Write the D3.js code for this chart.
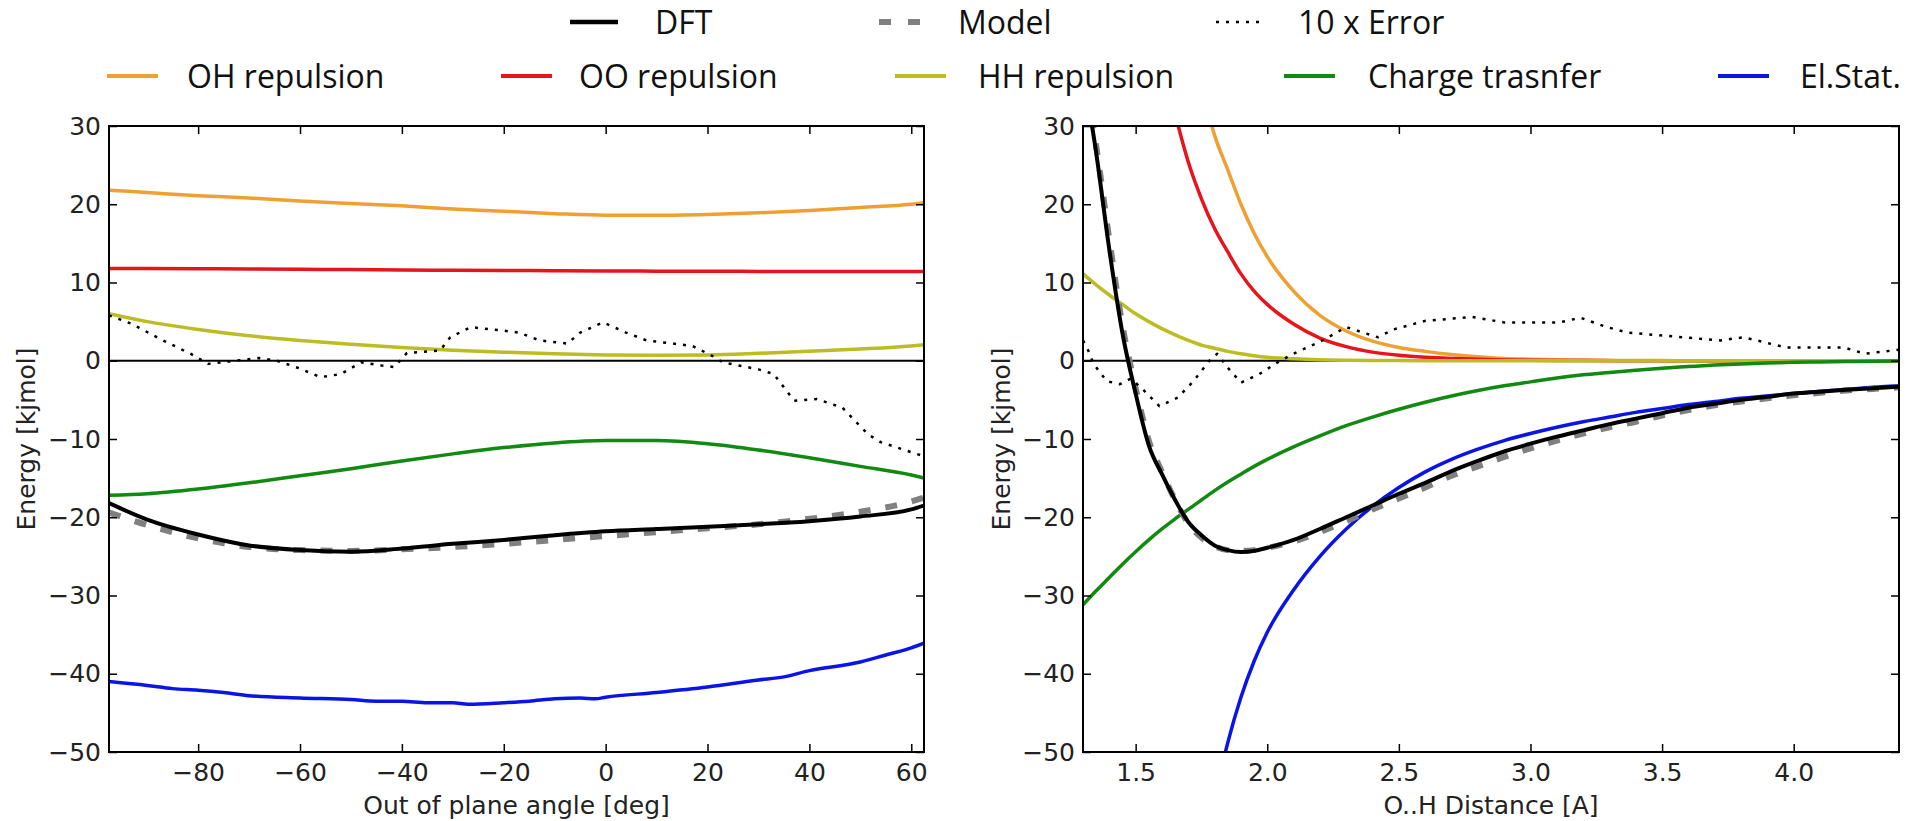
<!DOCTYPE html>
<html>
<head>
<meta charset="utf-8">
<script src="https://cdnjs.cloudflare.com/ajax/libs/d3/7.8.5/d3.min.js"></script>
<style>
	body { margin: 0; background: #fff; }
	svg { display: block; }
</style>
</head>
<body>
<div id="chart"></div>
<script>
// ---- data: left panel, out of plane angle [deg] ----
var angleX = [-97.5, -90, -80, -70, -60, -50, -40, -30, -20, -10, 0, 10, 20, 30, 40, 50, 60, 62.5];
var angleDFT = [-18.2, -20.3, -22.2, -23.6, -24.2, -24.4, -24.0, -23.4, -22.9, -22.3, -21.8, -21.5, -21.2, -20.9, -20.5, -19.9, -19.0, -18.5];
var angleModel = [-19.4, -21.0, -22.7, -23.8, -24.2, -24.3, -24.1, -23.8, -23.4, -22.9, -22.4, -21.9, -21.4, -20.9, -20.2, -19.3, -18.0, -17.5];
var angleOH = [21.8, 21.5, 21.1, 20.8, 20.4, 20.1, 19.8, 19.4, 19.1, 18.8, 18.6, 18.6, 18.7, 18.9, 19.2, 19.6, 20.0, 20.2];
var angleOO = [11.8, 11.78, 11.75, 11.72, 11.68, 11.65, 11.6, 11.57, 11.54, 11.5, 11.47, 11.45, 11.43, 11.42, 11.41, 11.4, 11.4, 11.4];
var angleHH = [6.0, 5.0, 4.0, 3.2, 2.6, 2.1, 1.7, 1.35, 1.1, 0.9, 0.75, 0.7, 0.75, 0.95, 1.2, 1.5, 1.9, 2.05];
var angleCT = [-17.2, -17.0, -16.4, -15.6, -14.7, -13.8, -12.8, -11.9, -11.1, -10.5, -10.2, -10.2, -10.6, -11.4, -12.4, -13.5, -14.6, -15.0];
var angleESX = [-97.5, -90, -85, -80, -75, -70, -60, -50, -45, -40, -35, -30, -27, -20, -15, -10, -5, -2, 0, 10, 20, 30, 35, 40, 50, 55, 60, 62.5];
var angleES = [-41.0, -41.5, -41.9, -42.1, -42.4, -42.8, -43.1, -43.3, -43.5, -43.5, -43.7, -43.7, -43.9, -43.7, -43.5, -43.2, -43.1, -43.2, -43.0, -42.4, -41.7, -40.8, -40.4, -39.6, -38.5, -37.6, -36.7, -36.1];
var angleErrX = [-97.5, -93, -87.5, -81.5, -78, -74, -68, -64.5, -60, -56, -52, -48, -44, -41.5, -39, -32.5, -30.5, -26.5, -19.5, -17, -13, -7.5, -5, -0.5, 4, 8, 17, 21, 23, 30, 33, 37, 41.5, 46.5, 51.5, 54, 61, 62.5];
var angleErr = [5.8, 4.7, 2.8, 0.9, -0.4, -0.1, 0.35, 0, -1.0, -2.1, -1.7, -0.2, -0.6, -0.8, 1.0, 1.3, 3.0, 4.3, 3.8, 3.6, 2.6, 2.2, 3.6, 4.9, 3.6, 2.6, 1.9, 0.6, -0.2, -1.1, -1.7, -5.1, -4.9, -6.0, -9.4, -10.4, -11.9, -12.2];

// ---- data: right panel, O..H distance [A] ----
var distX = [1.3, 1.35, 1.4, 1.45, 1.5, 1.55, 1.6, 1.65, 1.7, 1.75, 1.8, 1.85, 1.9, 1.95, 2.0, 2.1, 2.2, 2.3, 2.4, 2.5, 2.6, 2.7, 2.8, 2.9, 3.0, 3.1, 3.2, 3.3, 3.4, 3.5, 3.6, 3.7, 3.8, 3.9, 4.0, 4.1, 4.2, 4.3, 4.4];
var distDFT = [37, 26.6, 14.2, 3.5, -4.2, -10.8, -14.5, -17.8, -20.6, -22.3, -23.6, -24.2, -24.45, -24.3, -23.9, -22.9, -21.5, -20.0, -18.5, -17.0, -15.6, -14.1, -12.8, -11.6, -10.6, -9.7, -8.9, -8.1, -7.4, -6.7, -6.0, -5.5, -5.0, -4.6, -4.2, -3.95, -3.7, -3.5, -3.3];
var distModel = [38, 27.5, 15.5, 4.5, -3.5, -10.2, -14.2, -17.8, -20.8, -22.6, -23.7, -24.2, -24.3, -24.2, -23.9, -23.1, -21.9, -20.5, -19.0, -17.6, -16.2, -14.7, -13.5, -12.3, -11.2, -10.2, -9.3, -8.5, -7.8, -7.0, -6.3, -5.7, -5.2, -4.8, -4.4, -4.1, -3.8, -3.6, -3.4];
var distOH = [null, null, null, null, null, null, null, null, null, 35, 28.8, 24.4, 20.0, 16.3, 13.3, 8.9, 5.8, 3.8, 2.5, 1.7, 1.2, 0.8, 0.5, 0.3, 0.2, 0.12, 0.08, 0.05, 0.03, 0.02, 0.01, 0.01, 0, 0, 0, 0, 0, 0, 0];
var distOO = [null, null, null, null, null, null, null, 31.5, 25.4, 20.7, 16.9, 13.9, 11.1, 8.9, 7.2, 4.7, 2.9, 1.8, 1.1, 0.7, 0.45, 0.3, 0.2, 0.1, 0.06, 0.03, 0.02, 0.01, 0, 0, 0, 0, 0, 0, 0, 0, 0, 0, 0];
var distHH = [11.1, 9.7, 8.4, 7.2, 6.0, 5.0, 4.1, 3.3, 2.6, 2.0, 1.6, 1.2, 0.9, 0.65, 0.45, 0.25, 0.12, 0.06, 0.03, 0.02, 0, 0, 0, 0, 0, 0, 0, 0, 0, 0, 0, 0, 0, 0, 0, 0, 0, 0, 0];
var distCT = [-31.2, -29.4, -27.7, -26.0, -24.4, -22.9, -21.5, -20.2, -19.0, -17.8, -16.6, -15.5, -14.5, -13.5, -12.6, -11.0, -9.6, -8.3, -7.2, -6.2, -5.3, -4.5, -3.8, -3.2, -2.7, -2.2, -1.8, -1.5, -1.2, -0.95, -0.75, -0.55, -0.4, -0.3, -0.2, -0.15, -0.1, -0.05, -0.02];
var distES = [null, null, null, null, null, null, null, null, null, null, -56.0, -48.8, -43.0, -38.4, -34.7, -29.3, -25.0, -21.5, -18.6, -16.2, -14.2, -12.6, -11.3, -10.2, -9.3, -8.5, -7.8, -7.2, -6.6, -6.1, -5.6, -5.2, -4.8, -4.5, -4.2, -3.9, -3.65, -3.4, -3.2];
var distErrX = [1.3, 1.32, 1.34, 1.39, 1.44, 1.48, 1.52, 1.59, 1.66, 1.72, 1.78, 1.81, 1.85, 1.9, 1.97, 2.04, 2.1, 2.21, 2.3, 2.42, 2.48, 2.6, 2.78, 2.9, 3.11, 3.19, 3.29, 3.37, 3.72, 3.81, 3.97, 4.19, 4.27, 4.4];
var distErr = [2.6, 1.3, -0.4, -2.6, -3.0, -2.3, -3.4, -5.8, -4.7, -2.6, 0, 0.9, -0.9, -2.8, -1.7, -0.2, 0.9, 2.6, 4.3, 3.0, 4.0, 5.1, 5.6, 4.9, 4.9, 5.5, 4.3, 3.6, 2.6, 3.0, 1.7, 1.7, 0.9, 1.4];

// ---- axes and legend text ----
var energyTicks = [-50, -40, -30, -20, -10, 0, 10, 20, 30];
var angleTicks = [-80, -60, -40, -20, 0, 20, 40, 60];
var distTicks = [1.5, 2.0, 2.5, 3.0, 3.5, 4.0];
var legendTop = ['DFT', 'Model', '10 x Error'];
var legendBottom = ['OH repulsion', 'OO repulsion', 'HH repulsion', 'Charge trasnfer', 'El.Stat.'];

var colors = {
	dft: '#000000'
, model: '#808080'
, error: '#000000'
, oh: '#f0a030'
, oo: '#e8141c'
, hh: '#bcbd22'
, ct: '#108a10'
, es: '#0a14e6'
}

var W = 1922, H = 821;
var plotTop = 126, plotBottom = 752;
var tickFont = '"DejaVu Sans", sans-serif';

var svg = d3.select('#chart').append('svg')
	.attr('width', W)
	.attr('height', H);

function styleAxis(g) {
	g.select('.domain').remove();
	g.selectAll('.tick line').attr('stroke', '#000').attr('stroke-width', 1.5);
	g.selectAll('.tick text')
		.attr('font-family', tickFont)
		.attr('font-size', 25)
		.attr('fill', '#222');
}

function drawPanel(p) {
	var x = d3.scaleLinear().domain(p.xDomain).range([p.left, p.right]);
	var y = d3.scaleLinear().domain([-50, 30]).range([plotBottom, plotTop]);
	var g = svg.append('g');

	g.append('clipPath')
		.attr('id', p.id)
		.append('rect')
		.attr('x', p.left).attr('y', plotTop)
		.attr('width', p.right - p.left).attr('height', plotBottom - plotTop);

	// zero line
	g.append('line')
		.attr('x1', p.left).attr('x2', p.right)
		.attr('y1', y(0)).attr('y2', y(0))
		.attr('stroke', '#000').attr('stroke-width', 2);

	var line = d3.line()
		.defined(function(d) { return d[1] != null; })
		.x(function(d) { return x(d[0]); })
		.y(function(d) { return y(d[1]); });

	var lines = g.append('g').attr('clip-path', 'url(#' + p.id + ')');
	p.series.forEach(function(s) {
		line.curve(s.smooth ? d3.curveMonotoneX : d3.curveLinear);
		lines.append('path')
			.attr('d', line(d3.zip(s.xs, s.ys)))
			.attr('fill', 'none')
			.attr('stroke', s.color)
			.attr('stroke-width', s.width)
			.attr('stroke-dasharray', s.dash || null)
			.attr('stroke-linejoin', 'round');
	});

	// ticks on all four sides, pointing inward
	g.append('g')
		.attr('transform', 'translate(0,' + plotBottom + ')')
		.call(d3.axisBottom(x).tickValues(p.xTicks).tickFormat(p.fmt).tickSizeInner(-8).tickSizeOuter(0).tickPadding(11))
		.call(styleAxis);
	g.append('g')
		.attr('transform', 'translate(0,' + plotTop + ')')
		.call(d3.axisTop(x).tickValues(p.xTicks).tickFormat('').tickSizeInner(-8).tickSizeOuter(0))
		.call(styleAxis);
	g.append('g')
		.attr('transform', 'translate(' + p.left + ',0)')
		.call(d3.axisLeft(y).tickValues(energyTicks).tickFormat(d3.format('d')).tickSizeInner(-8).tickSizeOuter(0).tickPadding(8))
		.call(styleAxis);
	g.append('g')
		.attr('transform', 'translate(' + p.right + ',0)')
		.call(d3.axisRight(y).tickValues(energyTicks).tickFormat('').tickSizeInner(-8).tickSizeOuter(0))
		.call(styleAxis);

	g.append('rect')
		.attr('x', p.left).attr('y', plotTop)
		.attr('width', p.right - p.left).attr('height', plotBottom - plotTop)
		.attr('fill', 'none')
		.attr('stroke', '#000')
		.attr('stroke-width', 2);

	g.append('text')
		.attr('x', (p.left + p.right) / 2)
		.attr('y', 814)
		.attr('text-anchor', 'middle')
		.attr('font-family', tickFont)
		.attr('font-size', 25)
		.attr('fill', '#222')
		.text(p.xLabel);

	g.append('text')
		.attr('transform', 'translate(' + p.yLabelX + ',' + ((plotTop + plotBottom) / 2) + ') rotate(-90)')
		.attr('text-anchor', 'middle')
		.attr('font-family', tickFont)
		.attr('font-size', 25)
		.attr('fill', '#222')
		.text('Energy [kjmol]');
}

drawPanel({
	id: 'clip-angle'
, left: 109, right: 924
, xDomain: [-97.5, 62.5]
, xTicks: angleTicks
, fmt: d3.format('d')
, xLabel: 'Out of plane angle [deg]'
, yLabelX: 35
, series: [
		{ xs: angleX, ys: angleOH, color: colors.oh, width: 3.5, smooth: true }
	, { xs: angleX, ys: angleOO, color: colors.oo, width: 3.5, smooth: true }
	, { xs: angleX, ys: angleHH, color: colors.hh, width: 3.5, smooth: true }
	, { xs: angleX, ys: angleCT, color: colors.ct, width: 3.5, smooth: true }
	, { xs: angleESX, ys: angleES, color: colors.es, width: 3.5, smooth: true }
	, { xs: angleX, ys: angleModel, color: colors.model, width: 6, dash: '12,15', smooth: true }
	, { xs: angleX, ys: angleDFT, color: colors.dft, width: 4, smooth: true }
	, { xs: angleErrX, ys: angleErr, color: colors.error, width: 2.5, dash: '3,7' }
	]
});

drawPanel({
	id: 'clip-dist'
, left: 1083, right: 1899
, xDomain: [1.3, 4.4]
, xTicks: distTicks
, fmt: d3.format('.1f')
, xLabel: 'O..H Distance [A]'
, yLabelX: 1010
, series: [
		{ xs: distX, ys: distOH, color: colors.oh, width: 3.5, smooth: true }
	, { xs: distX, ys: distOO, color: colors.oo, width: 3.5, smooth: true }
	, { xs: distX, ys: distHH, color: colors.hh, width: 3.5, smooth: true }
	, { xs: distX, ys: distCT, color: colors.ct, width: 3.5, smooth: true }
	, { xs: distX, ys: distES, color: colors.es, width: 3.5, smooth: true }
	, { xs: distX, ys: distModel, color: colors.model, width: 6, dash: '12,15', smooth: true }
	, { xs: distX, ys: distDFT, color: colors.dft, width: 4, smooth: true }
	, { xs: distErrX, ys: distErr, color: colors.error, width: 2.5, dash: '3,7' }
	]
});

// legend
var legendFont = '"Open Sans", sans-serif';
var topHandles = [
	{ x: 570, color: colors.dft, width: 4.5, dash: null }
, { x: 879, color: colors.model, width: 6, dash: '12,17' }
, { x: 1216, color: colors.error, width: 2.5, dash: '3,7' }
];
var topTextX = [655, 958, 1298];
var bottomHandles = [colors.oh, colors.oo, colors.hh, colors.ct, colors.es];
var bottomLineX = [107, 501, 895, 1284, 1718];
var bottomTextX = [187, 579, 978, 1368, 1800];

var legend = svg.append('g').attr('font-family', legendFont).attr('font-size', 32).attr('fill', '#111');

legendTop.forEach(function(name, i) {
	var h = topHandles[i];
	legend.append('line')
		.attr('x1', h.x).attr('x2', h.x + (i == 1 ? 41 : 48))
		.attr('y1', 22).attr('y2', 22)
		.attr('stroke', h.color)
		.attr('stroke-width', h.width)
		.attr('stroke-dasharray', h.dash);
	legend.append('text')
		.attr('x', topTextX[i]).attr('y', 22)
		.attr('dy', '0.36em')
		.text(name);
});

legendBottom.forEach(function(name, i) {
	legend.append('line')
		.attr('x1', bottomLineX[i]).attr('x2', bottomLineX[i] + 51)
		.attr('y1', 76).attr('y2', 76)
		.attr('stroke', bottomHandles[i])
		.attr('stroke-width', 4);
	legend.append('text')
		.attr('x', bottomTextX[i]).attr('y', 76)
		.attr('dy', '0.36em')
		.text(name);
});
</script>
</body>
</html>
